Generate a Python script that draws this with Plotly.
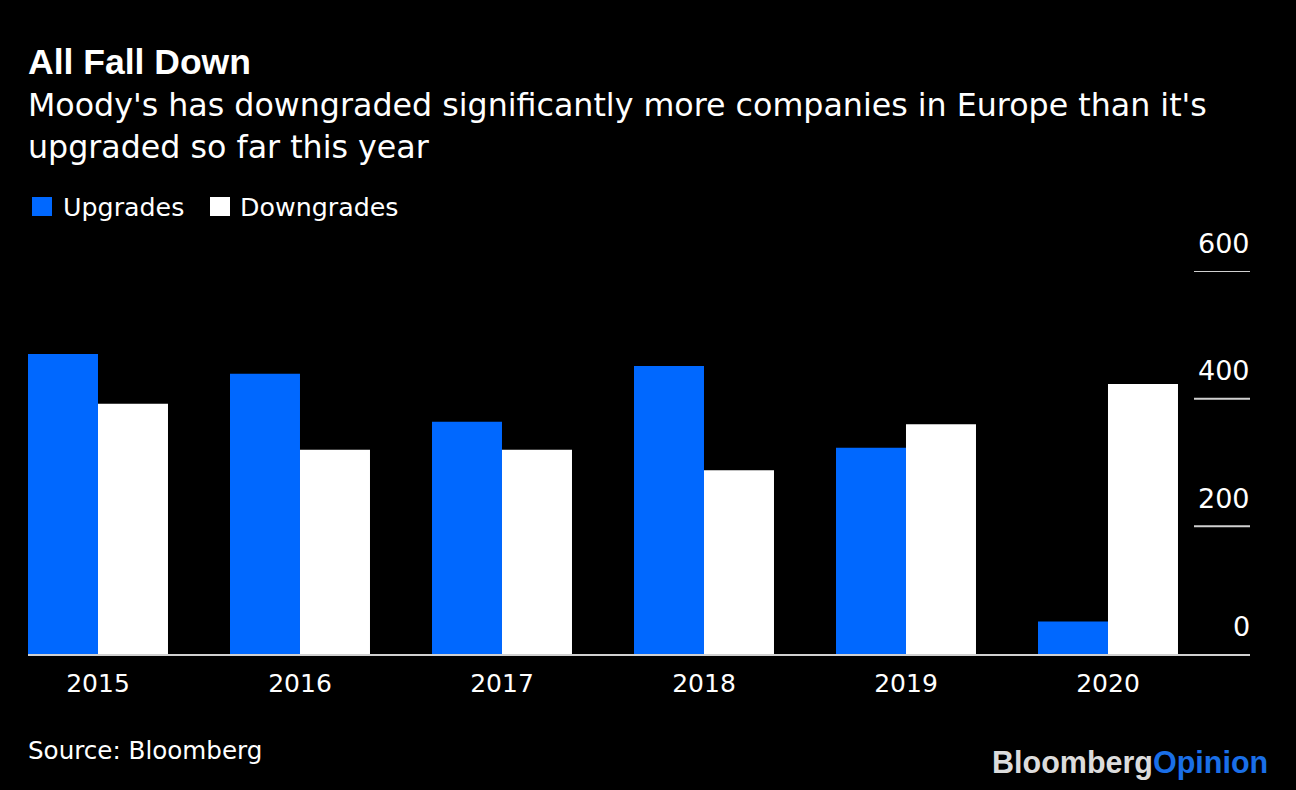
import plotly.graph_objects as go

years = ["2015", "2016", "2017", "2018", "2019", "2020"]
upgrades = [470, 439, 364, 451, 323, 51]
downgrades = [392, 320, 320, 288, 360, 423]
y_ticks = [0, 200, 400, 600]
y_tick_labels = ["0", "200", "400", "600"]
series_names = ["Upgrades", "Downgrades"]

BLUE = "#0068ff"
WHITE = "#ffffff"
FONT = "DejaVu Sans"
BOLD_FONT = "Liberation Sans"

W, H = 1296, 790
L, R, T, B = 28, 46, 271, 136
plot_w = W - L - R
plot_h = H - T - B


def py(px):
    return (H - B - px) / plot_h


def pxx(px):
    return (px - L) / plot_w


fig = go.Figure()
fig.add_trace(go.Bar(x=years, y=upgrades, name=series_names[0], marker=dict(color=BLUE, line=dict(width=0))))
fig.add_trace(go.Bar(x=years, y=downgrades, name=series_names[1], marker=dict(color=WHITE, line=dict(width=0))))

shapes = []
annotations = []
for v, lab in zip(y_ticks, y_tick_labels):
    if v != 0:  # the x-axis line serves as the zero rule
        shapes.append(dict(type="line", xref="paper", yref="y", x0=pxx(1194), x1=1.0,
                           y0=v, y1=v, line=dict(color="#d0d0d0", width=2)))
    annotations.append(dict(xref="paper", yref="y", x=1.0, y=v, text=lab, showarrow=False,
                            xanchor="right", yanchor="middle", yshift=28, xshift=2,
                            font=dict(family=FONT, size=27, color=WHITE)))

# legend (manual, to match square size and spacing)
legend_items = [(series_names[0], BLUE, 32, 63), (series_names[1], WHITE, 210, 240)]
for name, col, sx, tx in legend_items:
    shapes.append(dict(type="rect", xref="paper", yref="paper", x0=pxx(sx), x1=pxx(sx + 20),
                       y0=py(216), y1=py(197), fillcolor=col, line=dict(width=0)))
    annotations.append(dict(xref="paper", yref="paper", x=pxx(tx), y=py(207), text=name, showarrow=False,
                            xanchor="left", yanchor="middle", xshift=-2,
                            font=dict(family=FONT, size=25.3, color=WHITE)))

annotations += [
    dict(xref="paper", yref="paper", x=0, y=py(62), text="<b>All Fall Down</b>", showarrow=False,
         xanchor="left", yanchor="middle", xshift=-2, font=dict(family=BOLD_FONT, size=35.5, color=WHITE)),
    dict(xref="paper", yref="paper", x=0, y=py(105),
         text="Moody's has downgraded significantly more companies in Europe than it's", showarrow=False,
         xanchor="left", yanchor="middle", xshift=-2, font=dict(family=FONT, size=31.7, color=WHITE)),
    dict(xref="paper", yref="paper", x=0, y=py(147), text="upgraded so far this year", showarrow=False,
         xanchor="left", yanchor="middle", xshift=-2, font=dict(family=FONT, size=31.7, color=WHITE)),
    dict(xref="paper", yref="paper", x=0, y=py(750), text="Source: Bloomberg", showarrow=False,
         xanchor="left", yanchor="middle", xshift=-2, font=dict(family=FONT, size=24.6, color=WHITE)),
    dict(xref="paper", yref="paper", x=pxx(1268), y=py(762),
         text="<b><span style='color:#dcdcdc'>Bloomberg</span><span style='color:#1a6fe8'>Opinion</span></b>",
         showarrow=False, xanchor="right", yanchor="middle", xshift=2,
         font=dict(family=BOLD_FONT, size=30.5, color="#dcdcdc")),
]

fig.update_layout(
    width=W, height=H,
    margin=dict(l=L, r=R, t=T, b=B, autoexpand=False),
    paper_bgcolor="#000000", plot_bgcolor="#000000",
    barmode="group", bargap=0.307, bargroupgap=0,
    font=dict(family=FONT, color=WHITE),
    showlegend=False,
    xaxis=dict(type="category", range=[-0.3465, 5.703], showgrid=False, zeroline=False,
               showline=True, linecolor="#d0d0d0", linewidth=2, ticks="",
               ticklabelstandoff=6,
               tickfont=dict(family=FONT, size=25, color=WHITE)),
    yaxis=dict(range=[0, 600], showgrid=False, zeroline=False, showticklabels=False, showline=False),
    shapes=shapes, annotations=annotations,
)

fig.write_html("out.html")
